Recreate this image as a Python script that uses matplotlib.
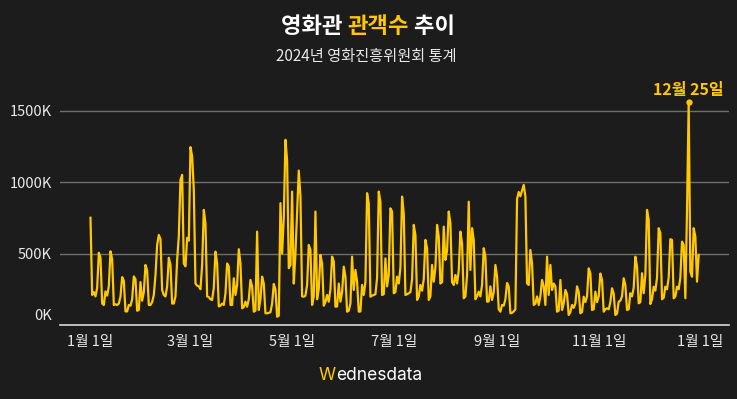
import matplotlib
matplotlib.use('Agg')
import matplotlib.pyplot as plt
import matplotlib.transforms as mtransforms
import pandas as pd
import numpy as np

# 일별 관객수 (단위: 천 명), 2024-01-01 ~ 2024-12-31
jan = [750, 210, 230, 200, 260, 505, 470, 150, 140, 235, 205, 270, 515, 460,
       140, 145, 140, 150, 200, 335, 310, 95, 95, 140, 135, 180, 340, 320,
       100, 105, 300]
feb = [170, 230, 420, 380, 140, 140, 160, 210, 350, 560, 630, 600, 245, 210,
       200, 270, 470, 420, 150, 150, 200, 455, 620, 1015, 1050, 430, 410, 610,
       590]
mar = [1244, 1180, 945, 290, 275, 270, 250, 420, 805, 710, 200, 195, 180, 175,
       260, 513, 430, 130, 135, 150, 140, 220, 430, 410, 140, 140, 327, 210,
       280, 530, 430]
apr = [117, 125, 163, 128, 180, 315, 270, 93, 100, 653, 105, 180, 338, 290,
       82, 82, 85, 90, 150, 287, 250, 58, 65, 852, 500, 750, 1295, 1150, 397,
       420]
may = [933, 290, 500, 790, 1080, 900, 200, 198, 205, 280, 560, 525, 140, 200,
       793, 180, 250, 490, 430, 135, 160, 210, 163, 250, 478, 445, 128, 130,
       290, 163, 230]
jun = [408, 338, 93, 100, 150, 478, 245, 385, 303, 93, 95, 280, 210, 300,
       922, 850, 198, 205, 210, 215, 330, 933, 862, 210, 215, 466, 270, 350,
       816, 793]
jul = [222, 230, 338, 290, 400, 898, 780, 210, 215, 222, 230, 320, 700, 630,
       175, 200, 280, 240, 320, 595, 537, 175, 200, 420, 303, 400, 700, 618,
       290, 300, 688]
aug = [455, 520, 793, 712, 300, 280, 350, 290, 380, 653, 570, 187, 200, 350,
       862, 385, 677, 595, 180, 200, 233, 200, 280, 537, 478, 163, 165, 270,
       175, 230, 420]
sep = [338, 110, 93, 140, 135, 180, 294, 270, 82, 85, 95, 110, 880, 930,
       900, 940, 980, 900, 290, 280, 525, 430, 140, 150, 200, 140, 200, 315,
       270, 140]
oct_ = [478, 210, 420, 245, 290, 270, 93, 100, 315, 105, 150, 245, 215, 70,
        90, 140, 120, 150, 270, 230, 82, 90, 198, 160, 200, 396, 362, 105,
        110, 233, 160]
nov = [200, 360, 315, 93, 110, 117, 110, 160, 257, 220, 70, 80, 163, 170,
       200, 327, 280, 105, 110, 222, 200, 260, 478, 408, 152, 160, 362, 222,
       350, 805]
dec = [735, 147, 180, 268, 240, 330, 677, 642, 180, 190, 268, 250, 330, 600,
       595, 187, 200, 268, 250, 330, 583, 560, 187, 800, 1556, 373, 338, 677,
       618, 303, 490]

tick_dates = ['2024-01-01', '2024-03-01', '2024-05-01', '2024-07-01',
              '2024-09-01', '2024-11-01', '2025-01-01']
y_ticks = [0, 500, 1000, 1500]

values = np.array(jan + feb + mar + apr + may + jun + jul + aug + sep + oct_ + nov + dec) * 1000
dates = pd.date_range('2024-01-01', periods=len(values), freq='D')

bg = '#1c1c1c'
gold = '#ffc800'
txt = '#e8e8e8'

plt.rcParams['font.family'] = ['Noto Sans CJK KR', 'DejaVu Sans']

fig = plt.figure(figsize=(7.37, 3.99), dpi=100)
fig.patch.set_facecolor(bg)
ax = fig.add_axes([60/737, 74/399, 669/737, 228.8/399])
ax.set_facecolor(bg)

ax.plot(dates, values, color=gold, lw=1.6, solid_joinstyle='round', zorder=3)

# 최고점 표시
i = int(np.argmax(values))
ax.plot(dates[i], values[i], 'o', ms=3.5, color=gold, clip_on=False, zorder=4)
ax.annotate(f'{dates[i].month}월 {dates[i].day}일', (dates[i], values[i]),
            xytext=(0, 3.5), textcoords='offset points', ha='center', va='bottom',
            color=gold, fontsize=11.5, fontweight='bold', annotation_clip=False)

ax.set_ylim(0, 1600000)
ax.set_xlim(dates[0] - pd.Timedelta(days=18.3), dates[0] + pd.Timedelta(days=383.2))

td = pd.to_datetime(tick_dates)
ax.set_xticks(td)
ax.set_xticklabels([f'{d.month}월 {d.day}일' for d in td])
ax.set_yticks([v * 1000 for v in y_ticks])
ax.set_yticklabels([f'{v}K' for v in y_ticks])

ax.tick_params(axis='both', length=0, labelcolor=txt, labelsize=10.5)
ax.tick_params(axis='y', pad=5.8)
ax.tick_params(axis='x', pad=7)

ax.yaxis.grid(True, color='#6e6e6e', lw=1)
ax.set_axisbelow(True)
for s in ['top', 'right', 'left']:
    ax.spines[s].set_visible(False)
ax.spines['bottom'].set_color('#d8d8d8')
ax.spines['bottom'].set_linewidth(1.2)
ax.spines['bottom'].set_zorder(5)

# 0K 라벨은 살짝 위로
lab0 = ax.yaxis.get_major_ticks()[0].label1
lab0.set_transform(lab0.get_transform() + mtransforms.ScaledTranslation(0, 10/100, fig.dpi_scale_trans))

# 제목 (부분 색상)
t1 = fig.text(281/737, 1 - 33/399, '영화관 ', color='white', fontsize=16,
              fontweight='bold', va='baseline', ha='left')
a2 = fig.add_artist(plt.Annotation('관객수', xy=(1, 0), xycoords=t1, va='bottom',
                                   color=gold, fontsize=16, fontweight='bold'))
fig.add_artist(plt.Annotation(' 추이', xy=(1, 0), xycoords=a2, va='bottom',
                              color='white', fontsize=16, fontweight='bold'))

fig.text(0.497, 1 - 57/399, '2024년 영화진흥위원회 통계', color=txt, fontsize=11,
         ha='center', va='center')

# 하단 로고
w1 = fig.text(319/737, 1 - 380/399, 'W', color=gold, fontsize=12.5,
              family=['Inter', 'DejaVu Sans'], va='baseline', ha='left')
fig.add_artist(plt.Annotation('ednesdata', xy=(1, 0), xycoords=w1, va='bottom',
                              color='white', fontsize=12.5, family=['Inter', 'DejaVu Sans']))

fig.savefig('out.png', dpi=100, facecolor=bg)
